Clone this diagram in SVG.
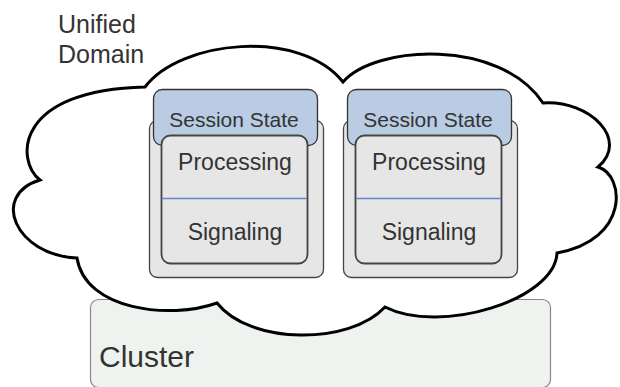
<svg xmlns="http://www.w3.org/2000/svg" width="620" height="387" viewBox="0 0 620 387">
<style>
text{font-family:"Liberation Sans",Arial,sans-serif;fill:#333}
.outer{fill:#e6e6e6;stroke:#444;stroke-width:1.3}
.state{fill:#b9cce3;stroke:#333;stroke-width:1.3}
.inner{fill:#e6e6e6;stroke:#444;stroke-width:1.8}
.div{stroke:#5b8ad4;stroke-width:1.5}
.lbl{text-anchor:middle;font-size:23px}
.st{text-anchor:middle;font-size:21px}
</style>
<rect width="620" height="387" fill="#fff"/>
<g id="cluster">
<rect x="90.5" y="299.5" width="460" height="88" rx="8" fill="#eff3ef" stroke="#888" stroke-width="1.2"/>
<text x="99" y="367" font-size="30">Cluster</text>
</g>
<g id="unified-domain">
<path d="M145,87 C180,40 300,28 343,82 C375,45 500,38 543,103 C590,100 630,140 598,167 C625,175 630,240 557,253 C555,300 440,335 385,307 C350,345 250,345 217,303 C170,320 85,310 77,258 C15,255 -10,195 40,180 C15,160 15,90 145,87 Z" fill="#fff" stroke="#000" stroke-width="3" stroke-linejoin="miter"/>
<text x="58" y="33" font-size="25">Unified</text>
<text x="58" y="63" font-size="25">Domain</text>
</g>
<g id="node-1">
<rect class="outer" x="149.5" y="120.5" width="174" height="157" rx="8"/>
<rect class="state" x="153.5" y="89.5" width="164" height="56" rx="9"/>
<rect class="inner" x="161.5" y="135.5" width="146" height="128" rx="9"/>
<line class="div" x1="162" y1="198.5" x2="307" y2="198.5"/>
<text class="st" x="234" y="127">Session State</text>
<text class="lbl" x="235" y="170">Processing</text>
<text class="lbl" x="235" y="240">Signaling</text>
</g>
<g id="node-2">
<rect class="outer" x="343.5" y="120.5" width="174" height="157" rx="8"/>
<rect class="state" x="347.5" y="89.5" width="164" height="56" rx="9"/>
<rect class="inner" x="355.5" y="135.5" width="146" height="128" rx="9"/>
<line class="div" x1="356" y1="198.5" x2="501" y2="198.5"/>
<text class="st" x="428" y="127">Session State</text>
<text class="lbl" x="429" y="170">Processing</text>
<text class="lbl" x="429" y="240">Signaling</text>
</g>
</svg>
